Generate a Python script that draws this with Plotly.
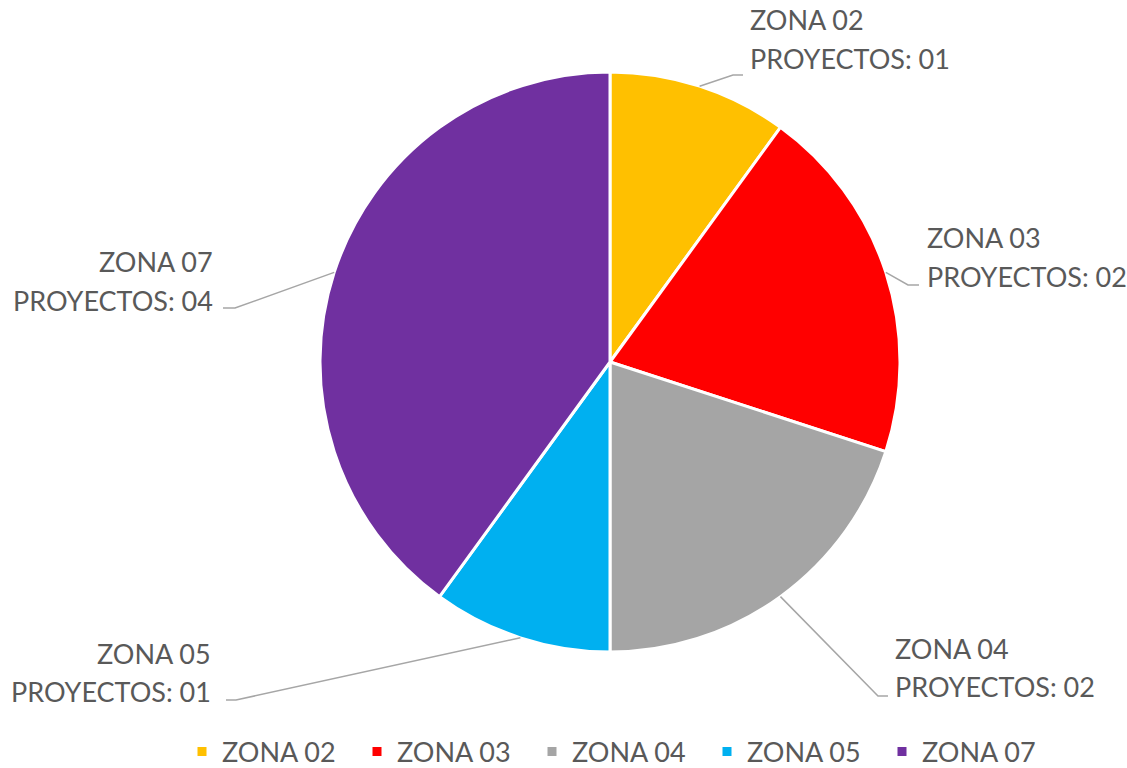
"""
=============================================================================
zone_projects_pie.py
Description:
    Builds a pie chart with the number of projects per zone using Plotly:
    - One slice per zone, clockwise from 12 o'clock
    - Outside labels joined to their slice by a leader line
    - Horizontal legend under the pie

    The figure is written to out.html
=============================================================================
"""

import math

import plotly.graph_objects as go


# ─────────────────────────────────────────────
# DATA
# ─────────────────────────────────────────────

ZONES = ["ZONA 02", "ZONA 03", "ZONA 04", "ZONA 05", "ZONA 07"]
PROJECTS = [1, 2, 2, 1, 4]
ZONE_COLORS = ["#FFC000", "#FF0000", "#A5A5A5", "#00B0F0", "#7030A0"]


# ─────────────────────────────────────────────
# LAYOUT (pixels)
# ─────────────────────────────────────────────

WIDTH, HEIGHT = 1127, 768
CENTER_X, CENTER_Y, RADIUS = 610, 362, 290
FONT = "Lato, 'Open Sans', sans-serif"
TEXT_COLOR = "#595959"
LINE_COLOR = "#A6A6A6"

LABEL_X = [748, 925, 893, 213, 215]        # edge of the text block
LABEL_Y = [20, 238, 648, 653, 262]         # centre of the first line
LABEL_SIDE = ["left", "left", "left", "right", "right"]
LEADER_ELBOW = [(733, 75), (908, 285), (878, 696), (236, 700), (235, 308)]
LEADER_END = [(743, 75), (919, 285), (888, 696), (226, 700), (223, 308)]


def _px(x, y):
    """Pixel position -> paper position (margins are zero)."""
    return x / WIDTH, 1 - y / HEIGHT


# ─────────────────────────────────────────────
# PIE CHART
# ─────────────────────────────────────────────

def zone_projects_pie(zones: list, projects: list) -> go.Figure:
    """
    Pie chart of projects per zone with leader-line labels.

    Args:
        zones: zone names
        projects: number of projects in each zone

    Returns:
        Plotly Figure
    """
    x0, y1 = _px(CENTER_X - RADIUS, CENTER_Y - RADIUS)
    x1, y0 = _px(CENTER_X + RADIUS, CENTER_Y + RADIUS)

    fig = go.Figure(data=[go.Pie(
        labels=zones,
        values=projects,
        sort=False,
        direction="clockwise",
        rotation=0,
        marker=dict(colors=ZONE_COLORS, line=dict(color="white", width=3)),
        textinfo="none",
        domain=dict(x=[x0, x1], y=[y0, y1]),
        hovertemplate="<b>%{label}</b><br>Proyectos: %{value}<extra></extra>"
    )])

    total = sum(projects)
    cum = 0
    for i, (zone, n) in enumerate(zip(zones, projects)):
        # leader line starts on the edge of the slice, at its middle angle
        theta = 2 * math.pi * (cum + n / 2) / total
        cum += n
        sx = CENTER_X + RADIUS * math.sin(theta)
        sy = CENTER_Y - RADIUS * math.cos(theta)
        pts = [_px(sx, sy), _px(*LEADER_ELBOW[i]), _px(*LEADER_END[i])]
        path = "M " + " L ".join(f"{px:.5f},{py:.5f}" for px, py in pts)
        fig.add_shape(
            type="path", path=path, xref="paper", yref="paper",
            line=dict(color=LINE_COLOR, width=1.5)
        )

        # two text lines: zone name and number of projects
        for k, text in enumerate([zone, f"PROYECTOS: {n:02d}"]):
            ax, ay = _px(LABEL_X[i], LABEL_Y[i] + 38 * k)
            fig.add_annotation(
                text=text, x=ax, y=ay, xref="paper", yref="paper",
                xanchor=LABEL_SIDE[i], yanchor="middle", showarrow=False,
                font=dict(family=FONT, size=27, color=TEXT_COLOR)
            )

    fig.update_layout(
        width=WIDTH,
        height=HEIGHT,
        showlegend=True,
        legend=dict(
            orientation="h",
            x=182 / WIDTH, xanchor="left",
            y=1 - 752 / HEIGHT, yanchor="middle",
            entrywidth=130, entrywidthmode="pixels",   # + 40 px for the symbol
            font=dict(family=FONT, size=27, color=TEXT_COLOR)
        ),
        margin=dict(l=0, r=0, t=0, b=0, autoexpand=False),
        paper_bgcolor="white",
        plot_bgcolor="white"
    )

    return fig


fig = zone_projects_pie(ZONES, PROJECTS)
fig.write_html(
    "out.html",
    config={"displayModeBar": False},
    post_script="document.body.style.margin = '0';"   # figure fills the page
)
